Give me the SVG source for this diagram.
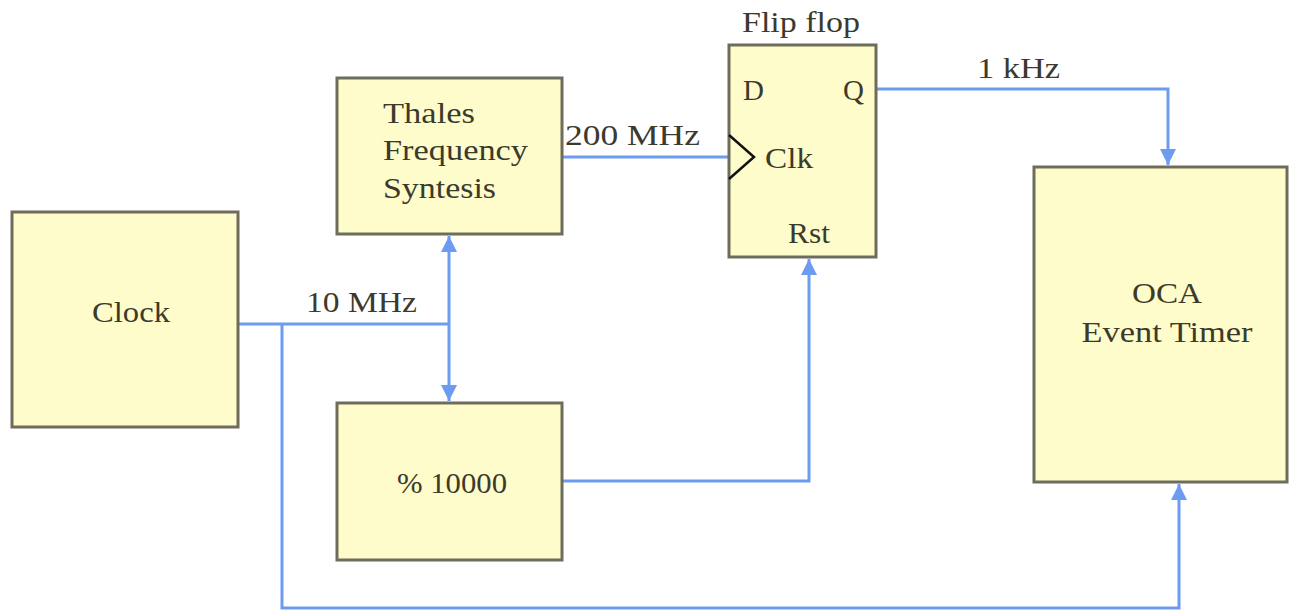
<svg xmlns="http://www.w3.org/2000/svg" width="1289" height="615" viewBox="0 0 1289 615">
  <style>
    .box { fill: #fefcca; stroke: #6e6c5c; stroke-width: 3; }
    .t { font-family: "Liberation Serif", "Times New Roman", serif; font-size: 29px; fill: #3b3a2c; }
    .c { text-anchor: middle; }
    .wire { fill: none; stroke: #6d9bef; stroke-width: 3; }
    .clk { fill: none; stroke: #111111; stroke-width: 2.5; }
  </style>
  <defs>
    <marker id="ah" viewBox="0 0 16 16" refX="16" refY="8" markerWidth="16" markerHeight="16" markerUnits="userSpaceOnUse" orient="auto">
      <path d="M0,0 L16,8 L0,16 z" fill="#6d9bef"/>
    </marker>
  </defs>
  <rect width="1289" height="615" fill="#ffffff"/>

  <g id="connectors">
    <path class="wire" d="M238,324 H449"/>
    <path class="wire" d="M449,324 V236" marker-end="url(#ah)"/>
    <path class="wire" d="M449,324 V401" marker-end="url(#ah)"/>
    <path class="wire" d="M282,324 V608 H1179 V484" marker-end="url(#ah)"/>
    <path class="wire" d="M562,157 H729"/>
    <path class="wire" d="M562,481 H809 V259" marker-end="url(#ah)"/>
    <path class="wire" d="M876,89 H1168 V165" marker-end="url(#ah)"/>
    <text class="t" x="565" y="145" textLength="135" lengthAdjust="spacingAndGlyphs">200 MHz</text>
    <text class="t" x="306" y="312" textLength="111" lengthAdjust="spacingAndGlyphs">10 MHz</text>
    <text class="t" x="977" y="78" textLength="83" lengthAdjust="spacingAndGlyphs">1 kHz</text>
  </g>

  <g id="clock">
    <rect class="box" x="12" y="212" width="226" height="215"/>
    <text class="t c" x="131" y="322" textLength="78" lengthAdjust="spacingAndGlyphs">Clock</text>
  </g>

  <g id="thales">
    <rect class="box" x="337" y="78" width="225" height="156"/>
    <text class="t" x="383" y="123" textLength="92" lengthAdjust="spacingAndGlyphs">Thales</text>
    <text class="t" x="383" y="160" textLength="145" lengthAdjust="spacingAndGlyphs">Frequency</text>
    <text class="t" x="383" y="198" textLength="113" lengthAdjust="spacingAndGlyphs">Syntesis</text>
  </g>

  <g id="divider">
    <rect class="box" x="337" y="403" width="225" height="157"/>
    <text class="t c" x="452" y="493" textLength="110" lengthAdjust="spacingAndGlyphs">% 10000</text>
  </g>

  <g id="flipflop">
    <rect class="box" x="729" y="45" width="147" height="212"/>
    <text class="t c" x="801" y="32" textLength="118" lengthAdjust="spacingAndGlyphs">Flip flop</text>
    <text class="t" x="743" y="100">D</text>
    <text class="t" x="843" y="100">Q</text>
    <polyline class="clk" points="729,135 754,157 729,179"/>
    <text class="t" x="765" y="168" textLength="48" lengthAdjust="spacingAndGlyphs">Clk</text>
    <text class="t c" x="809" y="243" textLength="42" lengthAdjust="spacingAndGlyphs">Rst</text>
  </g>

  <g id="oca">
    <rect class="box" x="1034" y="167" width="253" height="315"/>
    <text class="t c" x="1167" y="303" textLength="70" lengthAdjust="spacingAndGlyphs">OCA</text>
    <text class="t c" x="1167" y="342" textLength="171" lengthAdjust="spacingAndGlyphs">Event Timer</text>
  </g>
</svg>
